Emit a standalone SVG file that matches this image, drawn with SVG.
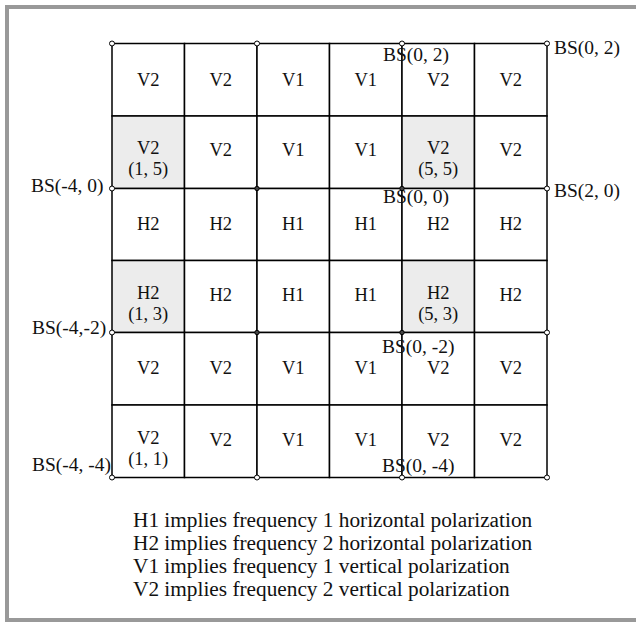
<svg xmlns="http://www.w3.org/2000/svg" width="636" height="624" viewBox="0 0 636 624">
<style>
.t{font-family:"Liberation Serif","Times New Roman",serif;font-size:18.5px;fill:#111;text-anchor:middle}
.bs{font-family:"Liberation Serif","Times New Roman",serif;font-size:19.5px;fill:#111}
.lg{font-family:"Liberation Serif","Times New Roman",serif;font-size:21.3px;fill:#111}
.c{fill:#fff;stroke:#000;stroke-width:1.5}
.s{fill:#ececec;stroke:#000;stroke-width:1.5}
.o{fill:#fff;stroke:#000;stroke-width:1}
.f{fill:#444;stroke:#000;stroke-width:1}
</style>
<rect x="7" y="7" width="640" height="613" fill="#fff" stroke="#999" stroke-width="4"/>
<g id="cells">
<g id="r0">
<rect class="c" x="112" y="43.5" width="72.5" height="72.5"/><text class="t" x="148.25" y="86">V2</text>
<rect class="c" x="184.5" y="43.5" width="72.5" height="72.5"/><text class="t" x="220.75" y="86">V2</text>
<rect class="c" x="257" y="43.5" width="72.5" height="72.5"/><text class="t" x="293.25" y="86">V1</text>
<rect class="c" x="329.5" y="43.5" width="72.5" height="72.5"/><text class="t" x="365.75" y="86">V1</text>
<rect class="c" x="402" y="43.5" width="72.5" height="72.5"/><text class="t" x="438.25" y="86">V2</text>
<rect class="c" x="474.5" y="43.5" width="72.5" height="72.5"/><text class="t" x="510.75" y="86">V2</text>
</g>
<g id="r1">
<rect class="s" x="112" y="116" width="72.5" height="72.5"/><text class="t" x="148.25" y="154">V2</text><text class="t" x="148.25" y="175">(1, 5)</text>
<rect class="c" x="184.5" y="116" width="72.5" height="72.5"/><text class="t" x="220.75" y="156">V2</text>
<rect class="c" x="257" y="116" width="72.5" height="72.5"/><text class="t" x="293.25" y="156">V1</text>
<rect class="c" x="329.5" y="116" width="72.5" height="72.5"/><text class="t" x="365.75" y="156">V1</text>
<rect class="s" x="402" y="116" width="72.5" height="72.5"/><text class="t" x="438.25" y="154">V2</text><text class="t" x="438.25" y="175">(5, 5)</text>
<rect class="c" x="474.5" y="116" width="72.5" height="72.5"/><text class="t" x="510.75" y="156">V2</text>
</g>
<g id="r2">
<rect class="c" x="112" y="188.5" width="72.5" height="72"/><text class="t" x="148.25" y="230">H2</text>
<rect class="c" x="184.5" y="188.5" width="72.5" height="72"/><text class="t" x="220.75" y="230">H2</text>
<rect class="c" x="257" y="188.5" width="72.5" height="72"/><text class="t" x="293.25" y="230">H1</text>
<rect class="c" x="329.5" y="188.5" width="72.5" height="72"/><text class="t" x="365.75" y="230">H1</text>
<rect class="c" x="402" y="188.5" width="72.5" height="72"/><text class="t" x="438.25" y="230">H2</text>
<rect class="c" x="474.5" y="188.5" width="72.5" height="72"/><text class="t" x="510.75" y="230">H2</text>
</g>
<g id="r3">
<rect class="s" x="112" y="260.5" width="72.5" height="72"/><text class="t" x="148.25" y="299">H2</text><text class="t" x="148.25" y="320">(1, 3)</text>
<rect class="c" x="184.5" y="260.5" width="72.5" height="72"/><text class="t" x="220.75" y="301">H2</text>
<rect class="c" x="257" y="260.5" width="72.5" height="72"/><text class="t" x="293.25" y="301">H1</text>
<rect class="c" x="329.5" y="260.5" width="72.5" height="72"/><text class="t" x="365.75" y="301">H1</text>
<rect class="s" x="402" y="260.5" width="72.5" height="72"/><text class="t" x="438.25" y="299">H2</text><text class="t" x="438.25" y="320">(5, 3)</text>
<rect class="c" x="474.5" y="260.5" width="72.5" height="72"/><text class="t" x="510.75" y="301">H2</text>
</g>
<g id="r4">
<rect class="c" x="112" y="332.5" width="72.5" height="72.5"/><text class="t" x="148.25" y="374">V2</text>
<rect class="c" x="184.5" y="332.5" width="72.5" height="72.5"/><text class="t" x="220.75" y="374">V2</text>
<rect class="c" x="257" y="332.5" width="72.5" height="72.5"/><text class="t" x="293.25" y="374">V1</text>
<rect class="c" x="329.5" y="332.5" width="72.5" height="72.5"/><text class="t" x="365.75" y="374">V1</text>
<rect class="c" x="402" y="332.5" width="72.5" height="72.5"/><text class="t" x="438.25" y="374">V2</text>
<rect class="c" x="474.5" y="332.5" width="72.5" height="72.5"/><text class="t" x="510.75" y="374">V2</text>
</g>
<g id="r5">
<rect class="c" x="112" y="405" width="72.5" height="72.5"/><text class="t" x="148.25" y="444">V2</text><text class="t" x="148.25" y="465">(1, 1)</text>
<rect class="c" x="184.5" y="405" width="72.5" height="72.5"/><text class="t" x="220.75" y="446">V2</text>
<rect class="c" x="257" y="405" width="72.5" height="72.5"/><text class="t" x="293.25" y="446">V1</text>
<rect class="c" x="329.5" y="405" width="72.5" height="72.5"/><text class="t" x="365.75" y="446">V1</text>
<rect class="c" x="402" y="405" width="72.5" height="72.5"/><text class="t" x="438.25" y="446">V2</text>
<rect class="c" x="474.5" y="405" width="72.5" height="72.5"/><text class="t" x="510.75" y="446">V2</text>
</g>
</g>
<g id="bs-nodes">
<g id="bs-0-2a"><text class="bs" x="383" y="61">BS(0, 2)</text><circle class="o" cx="402" cy="43.5" r="2.5"/></g>
<g id="bs-0-2b"><circle class="o" cx="547" cy="43.5" r="2.5"/><text class="bs" x="554" y="54">BS(0, 2)</text></g>
<g id="bs-2-0"><circle class="o" cx="547" cy="188.5" r="2.5"/><text class="bs" x="554" y="197">BS(2, 0)</text></g>
<g id="bs-0-0"><text class="bs" x="383" y="203">BS(0, 0)</text><circle class="f" cx="402" cy="188.5" r="2.2"/></g>
<g id="bs-m4-0"><text class="bs" x="31" y="192">BS(-4, 0)</text><circle class="o" cx="112" cy="188.5" r="2.5"/></g>
<g id="bs-m4-m2"><text class="bs" x="32" y="334">BS(-4,-2)</text><circle class="o" cx="112" cy="332.5" r="2.5"/></g>
<g id="bs-0-m2"><text class="bs" x="382" y="353">BS(0, -2)</text><circle class="f" cx="402" cy="332.5" r="2.2"/></g>
<g id="bs-m4-m4"><text class="bs" x="32" y="471">BS(-4, -4)</text><circle class="o" cx="112" cy="477.5" r="2.5"/></g>
<g id="bs-0-m4"><text class="bs" x="382" y="472">BS(0, -4)</text><circle class="o" cx="402" cy="477.5" r="2.5"/></g>
<circle class="o" cx="112" cy="43.5" r="2.5"/>
<circle class="o" cx="257" cy="43.5" r="2.5"/>
<circle class="f" cx="257" cy="188.5" r="2.2"/>
<circle class="f" cx="257" cy="332.5" r="2.2"/>
<circle class="o" cx="257" cy="477.5" r="2.5"/>
<circle class="o" cx="547" cy="332.5" r="2.5"/>
<circle class="o" cx="547" cy="477.5" r="2.5"/>
</g>
<g id="legend">
<text class="lg" x="133" y="527">H1 implies frequency 1 horizontal polarization</text>
<text class="lg" x="133" y="550">H2 implies frequency 2 horizontal polarization</text>
<text class="lg" x="133" y="573">V1 implies frequency 1 vertical polarization</text>
<text class="lg" x="133" y="596">V2 implies frequency 2 vertical polarization</text>
</g>
</svg>
